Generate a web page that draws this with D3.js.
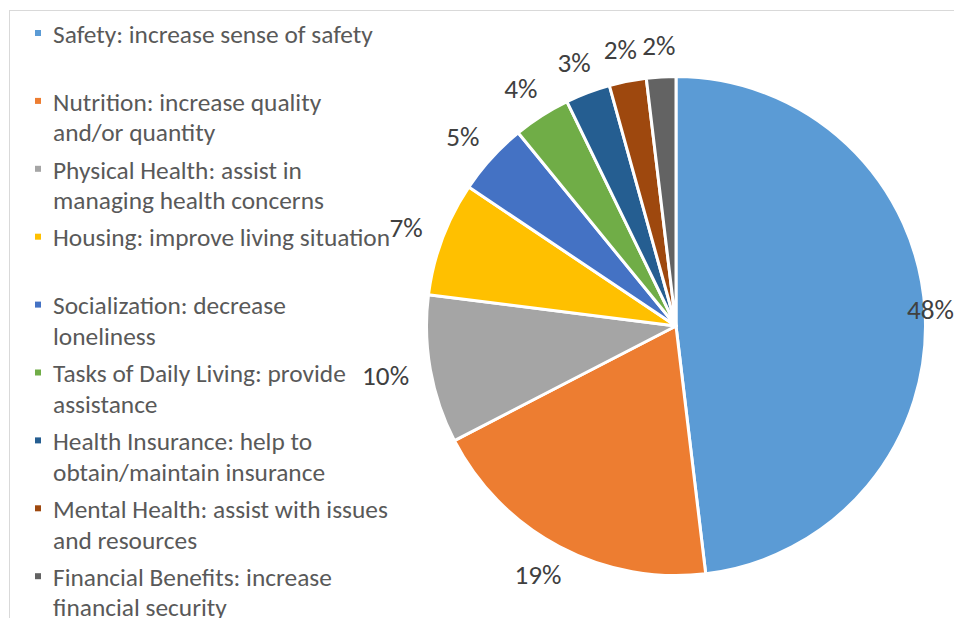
<!DOCTYPE html>
<html>
<head>
<meta charset="utf-8">
<script src="https://cdn.jsdelivr.net/npm/d3@7"></script>
<style>
  html, body { margin: 0; padding: 0; background: #fff; }
  svg { display: block; }
  text { font-family: Carlito, Lato, "Open Sans", sans-serif; }
</style>
</head>
<body>
<svg id="chart" width="954" height="618"></svg>
<script>
// ---- data ----
const categories = [
  ["Safety: increase sense of safety"],
  ["Nutrition: increase quality", "and/or quantity"],
  ["Physical Health: assist in", "managing health concerns"],
  ["Housing: improve living situation"],
  ["Socialization: decrease", "loneliness"],
  ["Tasks of Daily Living: provide", "assistance"],
  ["Health Insurance: help to", "obtain/maintain insurance"],
  ["Mental Health: assist with issues", "and resources"],
  ["Financial Benefits: increase", "financial security"]
];
const values = [48.1, 19.3, 9.6, 7.4, 4.7, 3.7, 2.9, 2.4, 1.9];
const colors = ["#5B9BD5", "#ED7D31", "#A5A5A5", "#FFC000", "#4472C4", "#70AD47", "#255E91", "#9E480E", "#636363"];

// ---- layout ----
const W = 954, H = 618;
const cx = 676, cy = 326, radius = 249.5;
const svg = d3.select("#chart");

// chart area border (top & left visible)
svg.append("rect")
  .attr("x", 9.5).attr("y", 10.5)
  .attr("width", W + 10).attr("height", H + 10)
  .attr("fill", "none").attr("stroke", "#d9d9d9").attr("stroke-width", 1);

// ---- pie ----
const total = d3.sum(values);
const pie = d3.pie().sort(null).value(d => d)(values);
const arc = d3.arc().innerRadius(0).outerRadius(radius);
const g = svg.append("g").attr("transform", `translate(${cx},${cy})`);
g.selectAll("path").data(pie).join("path")
  .attr("d", arc)
  .attr("fill", (d, i) => colors[i])
  .attr("stroke", "#fff").attr("stroke-width", 3).attr("stroke-linejoin", "round");

// ---- legend ----
const legendFont = 25;
const probe = svg.append("text").attr("font-size", legendFont).text(categories[0][0]);
const scaleL = 320 / probe.node().getComputedTextLength();
probe.remove();
const lf = legendFont * scaleL;
const legendY0 = 33, legendStep = 67.9, lineH = 30.5;
const leg = svg.append("g");
categories.forEach((lines, i) => {
  const y = legendY0 + i * legendStep;
  leg.append("rect").attr("x", 35).attr("y", y - 3).attr("width", 6).attr("height", 6).attr("fill", colors[i]);
  lines.forEach((ln, j) => {
    leg.append("text").attr("x", 53).attr("y", y + j * lineH + 9.7)
      .attr("font-size", lf).attr("fill", "#595959").text(ln);
  });
});

// ---- data labels ----
const labelFont = 27;
const probe2 = svg.append("text").attr("font-size", labelFont).text("10%");
const scaleP = 47 / probe2.node().getComputedTextLength();
probe2.remove();
const pf = labelFont * scaleP;
const R = radius + 22;
pie.forEach((d, i) => {
  const a = (d.startAngle + d.endAngle) / 2;
  const s = Math.sin(a), c = Math.cos(a);
  const txt = Math.round(d.value / total * 100) + "%";
  const t = g.append("text").attr("font-size", pf).attr("fill", "#404040")
    .attr("text-anchor", "middle").text(txt);
  const w = t.node().getComputedTextLength(), h = 20;
  let x = R * s + (w / 2) * s;
  let y = -R * c - (h / 2) * c;
  const maxX = W - cx - w / 2;
  if (x > maxX) x = maxX;
  t.attr("x", x).attr("y", y + 9.5);
});
</script>
</body>
</html>
